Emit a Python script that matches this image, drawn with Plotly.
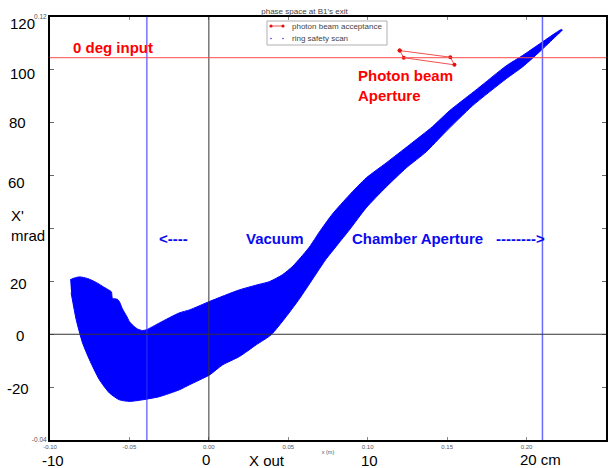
import plotly.graph_objects as go

# ---------------- data (x in cm, x' in mrad) ----------------
scan_top_x = [-8.73, -8.46, -8.14, -7.64, -7.09, -6.63, -6.26, -6.13, -6.07, -5.75, -5.63,
              -5.44, -5.19, -5.00, -4.75, -4.49, -4.18, -3.93, -3.11, -1.85, -1.22, 0.04,
              1.93, 3.18, 3.81, 4.63, 5.26, 5.76, 6.33, 6.96, 7.78, 8.85, 9.90,
              11.16, 12.62, 14.07, 15.14, 16.90, 18.71, 19.74, 20.81, 21.86, 22.19]
scan_top_y = [20.6, 21.3, 21.7, 21.1, 19.6, 17.9, 16.6, 16.0, 13.6, 13.2, 12.3,
              9.6, 7.0, 4.8, 3.2, 2.0, 1.4, 1.7, 4.3, 8.1, 9.2, 12.4,
              16.8, 18.9, 19.9, 22.5, 25.6, 28.9, 33.0, 38.7, 45.5, 52.7, 59.1,
              64.8, 71.6, 78.5, 84.5, 92.8, 101.5, 105.4, 109.8, 114.1, 115.3]
scan_bottom_x = [22.25, 21.86, 20.81, 19.74, 18.71, 16.59, 14.83, 13.68, 12.42, 11.16,
                 9.90, 8.85, 8.09, 7.34, 6.58, 5.70, 4.86, 3.92, 2.98, 1.93, 0.86, 0.04,
                 -1.22, -1.85, -3.11, -4.18, -5.00, -5.63, -6.26, -6.89, -7.51, -7.95,
                 -8.35, -8.67]
scan_bottom_y = [115.1, 112.8, 106.8, 101.1, 96.6, 86.4, 76.1, 69.0, 62.9, 55.7,
                 47.8, 39.5, 33.8, 28.1, 21.3, 13.4, 6.6, -0.2, -4.0, -8.4, -11.6, -15.4,
                 -19.1, -21.0, -23.6, -24.8, -25.4, -24.8, -22.2, -17.2, -9.7, -3.3,
                 5.5, 15.7]

aperture_x = [12.01, 15.20, 15.46, 12.27, 12.01]
aperture_y = [107.3, 104.8, 101.9, 104.6, 107.3]

zero_deg_input = 104.6          # mrad
chamber_left = -3.9             # cm
chamber_right = 21.0            # cm

x_tick_vals = [-10, -5, 0, 5, 10, 15, 20, 25]
x_tick_text = ["-0.10", "-0.05", "0.00", "0.05", "0.10", "0.15", "0.20", "0.25"]
y_tick_vals = [-40, -20, 0, 20, 40, 60, 80, 100, 120]
y_tick_text = ["-0.04", "", "", "", "", "", "", "", "0.12"]

x_big_labels = ["-10", "0", "10", "20 cm"]
y_big_labels = ["120", "100", "80", "60", "20", "0", "-20"]

# ---------------- layout helpers ----------------
W, H = 609, 468
L, R, T, B = 50, 3, 17, 28
PW, PH = W - L - R, H - T - B


def px(x):
    return (x - L) / PW


def py(y):
    return (H - B - y) / PH


FONT = "Arial, Liberation Sans, sans-serif"

fig = go.Figure()

fig.add_trace(go.Scatter(
    x=scan_top_x + scan_bottom_x, y=scan_top_y + scan_bottom_y,
    mode="lines", fill="toself", fillcolor="#0000ff",
    line=dict(color="#0000ff", width=1, shape="spline", smoothing=0.6),
    name="ring safety scan", showlegend=False, hoverinfo="skip"))

fig.add_trace(go.Scatter(
    x=aperture_x, y=aperture_y, mode="lines+markers",
    line=dict(color="#f25050", width=1), marker=dict(color="#e01010", size=4),
    name="photon beam acceptance", showlegend=False))

shapes = []
# reference lines
shapes.append(dict(type="line", xref="x", yref="paper", x0=chamber_left, x1=chamber_left,
                   y0=0, y1=1, line=dict(color="#3030ff", width=1)))
shapes.append(dict(type="line", xref="x", yref="paper", x0=chamber_right, x1=chamber_right,
                   y0=0, y1=1, line=dict(color="#6a6aff", width=1.5)))
shapes.append(dict(type="line", xref="x", yref="paper", x0=0, x1=0, y0=0, y1=1,
                   line=dict(color="#333333", width=1)))
shapes.append(dict(type="line", xref="paper", yref="y", x0=0, x1=1, y0=0, y1=0,
                   line=dict(color="#333333", width=1)))
shapes.append(dict(type="line", xref="paper", yref="y", x0=0, x1=1,
                   y0=zero_deg_input, y1=zero_deg_input,
                   line=dict(color="#ff4a4a", width=1)))

# manual legend
shapes.append(dict(type="rect", xref="paper", yref="paper", x0=px(267), x1=px(387),
                   y0=py(45), y1=py(21), line=dict(color="#b0b0b0", width=1),
                   fillcolor="white"))
shapes.append(dict(type="line", xref="paper", yref="paper", x0=px(271), x1=px(283),
                   y0=py(26), y1=py(26), line=dict(color="#f25050", width=1)))
for cx, cy, r, c in [(271, 26, 1.6, "#e01010"), (283, 26, 1.6, "#e01010"),
                     (271, 38.5, 0.8, "#3030ff"), (283, 38.5, 0.8, "#3030ff")]:
    shapes.append(dict(type="circle", xref="paper", yref="paper",
                       x0=px(cx - r), x1=px(cx + r), y0=py(cy + r), y1=py(cy - r),
                       fillcolor=c, line=dict(color=c, width=0)))

ann = []


def add(text, x, y, size=15, color="black", bold=False, xanchor="center", align="center"):
    if bold:
        text = "<b>" + text.replace("<br>", "</b><br><b>") + "</b>"
    ann.append(dict(text=text, xref="paper", yref="paper", x=px(x), y=py(y),
                    xanchor=xanchor, yanchor="middle", showarrow=False, align=align,
                    font=dict(family=FONT, size=size, color=color)))


add("photon beam acceptance", 290, 26, size=8, color="#444", xanchor="left")
add("ring safety scan", 290, 38.5, size=8, color="#444", xanchor="left")

# red annotations
add("0 deg input", 71, 47, size=15, color="#ff0000", bold=True, xanchor="left")
add("Photon beam<br>Aperture", 356, 85, size=15, color="#ff0000", bold=True,
    xanchor="left", align="left")

# blue annotations
add("&lt;----", 157, 238, size=15, color="#0a0af0", bold=True, xanchor="left")
add("Vacuum", 244, 238, size=15, color="#0a0af0", bold=True, xanchor="left")
add("Chamber Aperture", 350, 238, size=15, color="#0a0af0", bold=True, xanchor="left")
add("--------&gt;", 494, 238, size=15, color="#0a0af0", bold=True, xanchor="left")

# big axis labels
for t, xc, yc in zip(x_big_labels, [53, 206, 369, 540], [460, 459, 460, 459]):
    add(t, xc, yc, size=15)
add("X out", 267, 460, size=15)
for t, (xc, yc) in zip(y_big_labels, [(22.5, 23), (22.5, 74), (17, 122), (16.5, 182),
                                      (18.5, 283), (20, 335), (18, 388)]):
    add(t, xc, yc, size=15)
add("X'<br>mrad", 9, 225, size=15, xanchor="left", align="left")

fig.update_layout(
    width=W, height=H, autosize=False,
    margin=dict(l=L, r=R, t=T, b=B),
    paper_bgcolor="white", plot_bgcolor="white",
    showlegend=False,
    title=dict(text="phase space at B1's exit", x=px(328), xanchor="center",
               y=1 - 11 / H, yanchor="middle",
               font=dict(family=FONT, size=8, color="#444")),
    shapes=shapes, annotations=ann,
    font=dict(family=FONT),
)
fig.update_xaxes(range=[-10, 25], tickvals=x_tick_vals, ticktext=x_tick_text,
                 tickfont=dict(size=6, color="#555"), ticks="inside", ticklen=3,
                 tickcolor="#888", showline=True, linecolor="black", linewidth=2,
                 mirror="allticks", showgrid=False, zeroline=False, automargin=False,
                 title=dict(text="x (m)", font=dict(size=5.5, color="#555"), standoff=1))
fig.update_yaxes(range=[-40, 120], tickvals=y_tick_vals, ticktext=y_tick_text,
                 tickfont=dict(size=6.5, color="#555"), ticks="inside", ticklen=4,
                 tickcolor="#666", showline=True, linecolor="black", linewidth=2,
                 mirror="allticks", showgrid=False, zeroline=False, automargin=False)

fig.write_html("out.html")
